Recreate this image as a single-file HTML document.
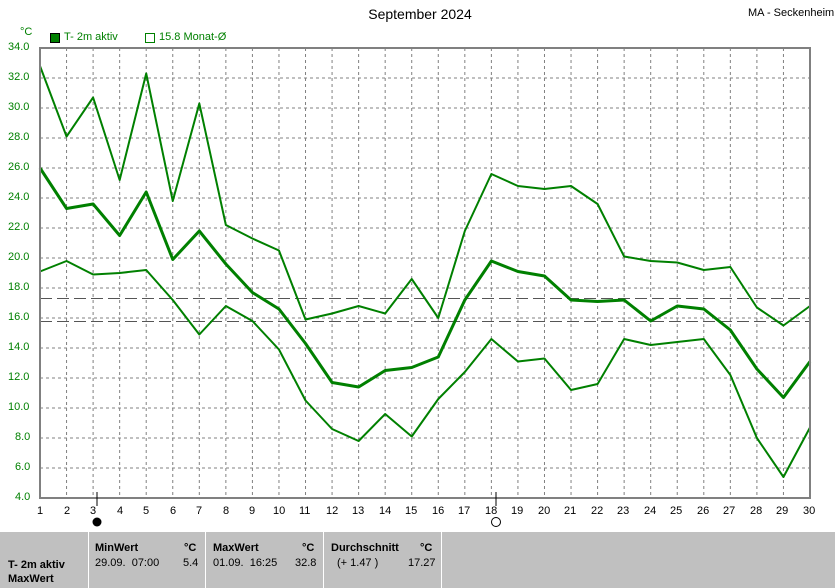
<!DOCTYPE html>
<html><head><meta charset="utf-8"><style>
body{margin:0;width:835px;height:588px;background:#fff;font-family:"Liberation Sans",sans-serif;position:relative;overflow:hidden}
.t{position:absolute;font-size:11px;white-space:nowrap}
.b{font-weight:bold}
</style></head><body>
<div class="t" style="left:0;width:840px;top:6px;text-align:center;font-size:14px">September 2024</div>
<div class="t" style="left:748px;top:7px;font-size:11px">MA - Seckenheim</div>
<div class="t" style="left:20px;top:26px;color:#008000">°C</div>
<div style="position:absolute;left:50px;top:33px;width:8px;height:8px;background:#008000;border:1px solid #000"></div>
<div class="t" style="left:64px;top:31px;color:#008000">T- 2m aktiv</div>
<div style="position:absolute;left:145px;top:33px;width:8px;height:8px;border:1px solid #008000;border-right-width:1px"></div>
<div class="t" style="left:159px;top:31px;color:#008000">15.8 Monat-Ø</div>

<svg width="835" height="588" style="position:absolute;left:0;top:0" id="s">
<g id="grid" stroke="#808080" stroke-dasharray="3,3" stroke-width="1"></g>
<line x1="40" y1="298.5" x2="810" y2="298.5" stroke="#555" stroke-dasharray="12,5"/>
<line x1="40" y1="321.5" x2="810" y2="321.5" stroke="#555" stroke-dasharray="12,5"/>
<g id="lines" fill="none" stroke="#008000" stroke-linejoin="round"></g>
<path d="M40,48 H810 V498 H40 Z" fill="none" stroke="#808080" stroke-width="2"/>
<line x1="97" y1="492" x2="97" y2="506" stroke="#000"/>
<circle cx="97" cy="522" r="4.5" fill="#000"/>
<line x1="496" y1="492" x2="496" y2="506" stroke="#000"/>
<circle cx="496" cy="522" r="4.5" fill="#fff" stroke="#000"/>
</svg>
<div id="yl"></div>
<div class="t" style="left:8px;top:41px;color:#008000">34.0</div>
<div class="t" style="left:8px;top:71px;color:#008000">32.0</div>
<div class="t" style="left:8px;top:101px;color:#008000">30.0</div>
<div class="t" style="left:8px;top:131px;color:#008000">28.0</div>
<div class="t" style="left:8px;top:161px;color:#008000">26.0</div>
<div class="t" style="left:8px;top:191px;color:#008000">24.0</div>
<div class="t" style="left:8px;top:221px;color:#008000">22.0</div>
<div class="t" style="left:8px;top:251px;color:#008000">20.0</div>
<div class="t" style="left:8px;top:281px;color:#008000">18.0</div>
<div class="t" style="left:8px;top:311px;color:#008000">16.0</div>
<div class="t" style="left:8px;top:341px;color:#008000">14.0</div>
<div class="t" style="left:8px;top:371px;color:#008000">12.0</div>
<div class="t" style="left:8px;top:401px;color:#008000">10.0</div>
<div class="t" style="left:15px;top:431px;color:#008000">8.0</div>
<div class="t" style="left:15px;top:461px;color:#008000">6.0</div>
<div class="t" style="left:15px;top:491px;color:#008000">4.0</div>
<div style="position:absolute;left:0;top:505px;width:835px;height:14px">
<span class="t" style="left:37px">1</span><span class="t" style="left:64px">2</span><span class="t" style="left:90px">3</span><span class="t" style="left:117px">4</span><span class="t" style="left:143px">5</span><span class="t" style="left:170px">6</span><span class="t" style="left:196px">7</span><span class="t" style="left:223px">8</span><span class="t" style="left:249px">9</span><span class="t" style="left:273px">10</span><span class="t" style="left:299px">11</span><span class="t" style="left:326px">12</span><span class="t" style="left:352px">13</span><span class="t" style="left:379px">14</span><span class="t" style="left:405px">15</span><span class="t" style="left:432px">16</span><span class="t" style="left:458px">17</span><span class="t" style="left:485px">18</span><span class="t" style="left:511px">19</span><span class="t" style="left:538px">20</span><span class="t" style="left:564px">21</span><span class="t" style="left:591px">22</span><span class="t" style="left:617px">23</span><span class="t" style="left:644px">24</span><span class="t" style="left:670px">25</span><span class="t" style="left:697px">26</span><span class="t" style="left:723px">27</span><span class="t" style="left:750px">28</span><span class="t" style="left:776px">29</span><span class="t" style="left:803px">30</span>
</div>
<div style="position:absolute;left:0;top:532px;width:835px;height:56px;background:#c0c0c0"></div>
<div style="position:absolute;left:88px;top:532px;width:1px;height:56px;background:#fff"></div>
<div style="position:absolute;left:205px;top:532px;width:1px;height:56px;background:#fff"></div>
<div style="position:absolute;left:323px;top:532px;width:1px;height:56px;background:#fff"></div>
<div style="position:absolute;left:441px;top:532px;width:1px;height:56px;background:#fff"></div>
<div class="t b" style="left:8px;top:559px">T- 2m aktiv</div>
<div class="t b" style="left:8px;top:573px">MaxWert</div>
<div class="t b" style="left:95px;top:542px">MinWert</div>
<div class="t b" style="left:184px;top:542px">°C</div>
<div class="t" style="left:95px;top:557px">29.09.&nbsp; 07:00</div>
<div class="t" style="left:183px;top:557px">5.4</div>
<div class="t b" style="left:213px;top:542px">MaxWert</div>
<div class="t b" style="left:302px;top:542px">°C</div>
<div class="t" style="left:213px;top:557px">01.09.&nbsp; 16:25</div>
<div class="t" style="left:295px;top:557px">32.8</div>
<div class="t b" style="left:331px;top:542px">Durchschnitt</div>
<div class="t b" style="left:420px;top:542px">°C</div>
<div class="t" style="left:337px;top:557px">(+ 1.47 )</div>
<div class="t" style="left:408px;top:557px">17.27</div>
<script>
var X=i=>40+(i-1)*770/29, Y=v=>48+(34-v)*15;
var g=document.getElementById('grid'),h='';
for(var i=2;i<30;i++)h+='<line x1="'+X(i)+'" y1="48" x2="'+X(i)+'" y2="498"/>';
for(var v=6;v<34;v+=2)h+='<line x1="40" y1="'+Y(v)+'" x2="810" y2="'+Y(v)+'"/>';
g.innerHTML=h;
var mx=[32.8,28.1,30.7,25.2,32.3,23.8,30.3,22.2,21.3,20.5,15.9,16.3,16.8,16.3,18.6,16.0,21.8,25.6,24.8,24.6,24.8,23.6,20.1,19.8,19.7,19.2,19.4,16.7,15.5,16.8];
var me=[26.0,23.3,23.6,21.5,24.4,19.9,21.8,19.6,17.7,16.6,14.3,11.7,11.4,12.5,12.7,13.4,17.2,19.8,19.1,18.8,17.2,17.1,17.2,15.8,16.8,16.6,15.2,12.6,10.7,13.1];
var mn=[19.1,19.8,18.9,19.0,19.2,17.2,14.9,16.8,15.8,13.9,10.5,8.6,7.8,9.6,8.1,10.6,12.4,14.6,13.1,13.3,11.2,11.6,14.6,14.2,14.4,14.6,12.2,8.0,5.4,8.7];
function pl(a,w){return '<polyline stroke-width="'+w+'" points="'+a.map((v,i)=>X(i+1)+','+Y(v)).join(' ')+'"/>';}
document.getElementById('lines').innerHTML=pl(mx,2)+pl(me,3)+pl(mn,2);
</script>
</body></html>
